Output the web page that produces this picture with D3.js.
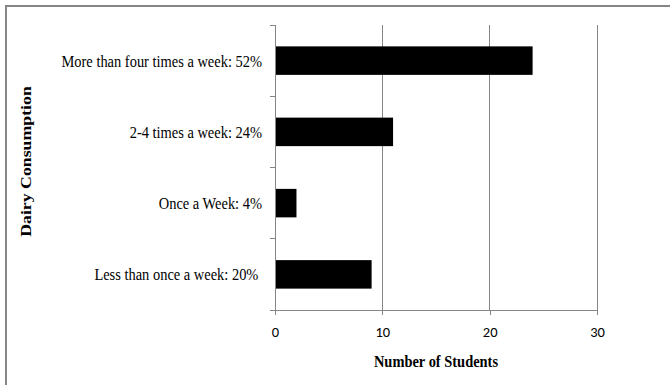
<!DOCTYPE html>
<html>
<head>
<meta charset="utf-8">
<script src="https://cdn.jsdelivr.net/npm/d3@7"></script>
<style>
  html, body { margin: 0; padding: 0; background: #fff; }
  svg { display: block; }
</style>
</head>
<body>
<svg id="chart" width="670" height="385"></svg>
<script>
// Dairy consumption survey: number of students per category
const categories = [
  "More than four times a week: 52%",
  "2-4 times a week: 24%",
  "Once a Week: 4%",
  "Less than once a week: 20% "
];
const students = [24, 11, 2, 9];
const xTicks = [0, 10, 20, 30];

const svg = d3.select("#chart");
const W = 670, H = 385;
const margin = { left: 275, right: 73, top: 25, bottom: 75 };

const serif = "'Liberation Serif', 'Times New Roman', serif";
const sans = "Carlito, Lato, 'Open Sans', sans-serif";
const gray = "#868686";
const squeeze = 0.85; // serif text is drawn horizontally condensed

// outer chart frame (only its top and left edges fall inside the view)
svg.append("rect")
  .attr("x", 6).attr("y", 6)
  .attr("width", W + 30).attr("height", H + 30)
  .attr("fill", "#fff")
  .attr("stroke", gray).attr("stroke-width", 2);

const x = d3.scaleLinear().domain([0, 30]).range([margin.left, W - margin.right]);
const y = d3.scaleBand().domain(categories)
  .range([margin.top, H - margin.bottom])
  .paddingInner(0.6).paddingOuter(0.3);

const plotTop = margin.top, plotBottom = H - margin.bottom;

// vertical gridlines
svg.append("g").selectAll("line")
  .data(xTicks.filter(d => d > 0))
  .join("line")
  .attr("x1", d => x(d)).attr("x2", d => x(d))
  .attr("y1", plotTop).attr("y2", plotBottom)
  .attr("stroke", gray).attr("stroke-width", 1).attr("shape-rendering", "crispEdges");

// bars
svg.append("g").selectAll("rect")
  .data(categories)
  .join("rect")
  .attr("x", x(0))
  .attr("y", d => y(d))
  .attr("width", (d, i) => x(students[i]) - x(0))
  .attr("height", y.bandwidth())
  .attr("fill", "#000");

// x axis
const xAxis = svg.append("g")
  .attr("transform", `translate(0,${plotBottom})`)
  .call(d3.axisBottom(x).tickValues(xTicks).tickSize(5).tickSizeOuter(0).tickPadding(12));
xAxis.select(".domain").attr("stroke", gray).attr("shape-rendering", "crispEdges");
xAxis.selectAll(".tick line").attr("stroke", gray).attr("shape-rendering", "crispEdges");
xAxis.selectAll(".tick text")
  .attr("font-family", sans).attr("font-size", 14.5).attr("fill", "#000");

// y axis line, with ticks at band boundaries
const yAxisLine = svg.append("g");
yAxisLine.append("line")
  .attr("x1", x(0)).attr("x2", x(0))
  .attr("y1", plotTop).attr("y2", plotBottom)
  .attr("stroke", gray).attr("shape-rendering", "crispEdges");
const bounds = d3.range(categories.length + 1)
  .map(i => plotTop + i * (plotBottom - plotTop) / categories.length);
yAxisLine.selectAll("line.tk")
  .data(bounds)
  .join("line").attr("class", "tk")
  .attr("x1", x(0) - 5).attr("x2", x(0))
  .attr("y1", d => d).attr("y2", d => d)
  .attr("stroke", gray).attr("shape-rendering", "crispEdges");

// category labels
svg.append("g").selectAll("text")
  .data(categories)
  .join("text")
  .attr("transform", d => `translate(${x(0) - 13},${y(d) + y.bandwidth() / 2}) scale(${squeeze},1)`)
  .attr("dy", "0.35em")
  .attr("text-anchor", "end")
  .attr("font-family", serif).attr("font-size", 17)
  .style("white-space", "pre")
  .text(d => d);

// axis titles
svg.append("text")
  .attr("transform", `translate(${(x(0) + x(30)) / 2},367) scale(${squeeze},1)`)
  .attr("text-anchor", "middle")
  .attr("font-family", serif).attr("font-size", 17).attr("font-weight", "bold")
  .text("Number of Students");

svg.append("text")
  .attr("transform", `translate(31,${(plotTop + plotBottom) / 2 - 6}) scale(${squeeze},1) rotate(-90)`)
  .attr("text-anchor", "middle")
  .attr("font-family", serif).attr("font-size", 17.8).attr("font-weight", "bold")
  .text("Dairy Consumption");
</script>
</body>
</html>
